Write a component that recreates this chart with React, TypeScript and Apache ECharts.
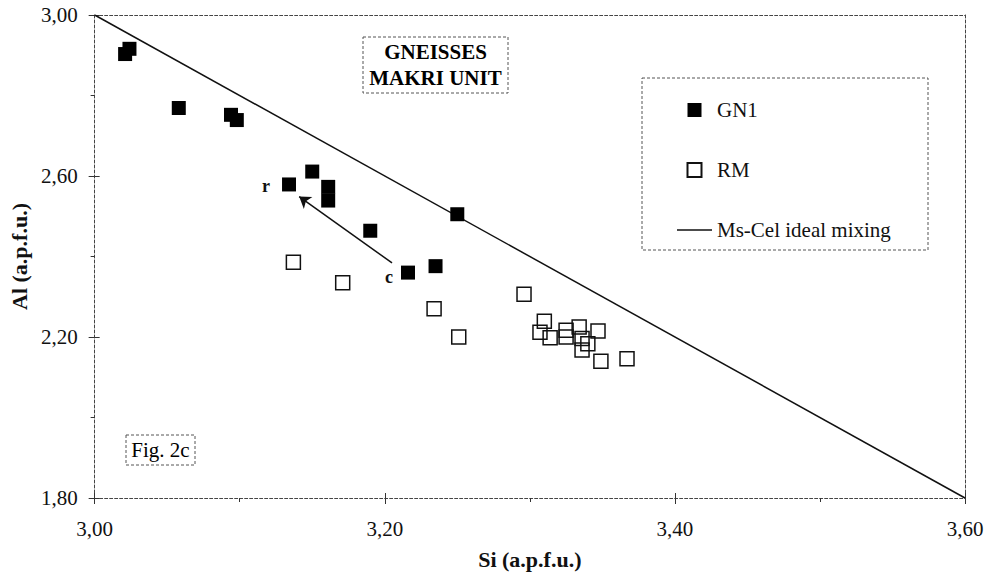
import React, { useEffect, useRef } from 'react';
import * as echarts from 'echarts';

const FONT = "'Liberation Serif', 'Times New Roman', Times, serif";

// Si (a.p.f.u.), Al (a.p.f.u.)
const gn1Points: number[][] = [
  [3.021, 2.903],
  [3.024, 2.916],
  [3.058, 2.769],
  [3.094, 2.752],
  [3.098, 2.739],
  [3.134, 2.579],
  [3.150, 2.611],
  [3.161, 2.573],
  [3.161, 2.539],
  [3.190, 2.464],
  [3.216, 2.360],
  [3.235, 2.376],
  [3.250, 2.505],
];

const rmPoints: number[][] = [
  [3.137, 2.386],
  [3.171, 2.335],
  [3.234, 2.270],
  [3.251, 2.200],
  [3.296, 2.306],
  [3.310, 2.239],
  [3.307, 2.212],
  [3.314, 2.198],
  [3.325, 2.217],
  [3.325, 2.200],
  [3.334, 2.225],
  [3.336, 2.196],
  [3.340, 2.183],
  [3.336, 2.168],
  [3.347, 2.215],
  [3.349, 2.140],
  [3.367, 2.146],
];

const mixingLine: number[][] = [
  [3.0, 3.0],
  [3.6, 1.8],
];

const arrowCoords: number[][] = [
  [3.205, 2.384],
  [3.141, 2.549],
];

const gn1PointLabels: Record<number, string> = { 5: 'r', 10: 'c' };

const seriesNames = ['GN1', 'RM', 'Ms-Cel ideal mixing'];

const fmt = (v: number) => v.toFixed(2).replace('.', ',');

const SQUARE_ICON = 'path://M0,0H10V10H0Z';
const LINE_ICON = 'path://M0,0H35V1.4H0Z';

export default function App() {
  const ref = useRef<HTMLDivElement>(null);

  useEffect(() => {
    if (!ref.current) return;
    const chart = echarts.init(ref.current, undefined, { renderer: 'svg' });

    const axisLineStyle = { color: '#444', width: 1, type: [3, 2] as any };
    const tickStyle = { color: '#333', width: 1 };

    const gn1Data = gn1Points.map((p, i) => {
      const lbl = gn1PointLabels[i];
      if (!lbl) return p;
      return {
        value: p,
        label: {
          show: true,
          formatter: lbl,
          position: 'left',
          distance: lbl === 'r' ? 12 : 8,
          offset: lbl === 'c' ? [0, 4] : [0, 2],
          fontFamily: FONT,
          fontSize: 18,
          fontWeight: 'bold',
          color: '#111',
        },
      };
    });

    chart.setOption({
      animation: false,
      backgroundColor: '#fff',
      grid: { left: 92, right: 30, top: 15, bottom: 80, containLabel: false },
      xAxis: [
        {
          type: 'value',
          min: 3,
          max: 3.6,
          interval: 0.2,
          position: 'bottom',
          axisLine: { show: true, onZero: false, lineStyle: axisLineStyle },
          axisTick: { show: true, inside: false, length: 6, lineStyle: tickStyle },
          minorTick: { show: true, splitNumber: 2, length: 4, lineStyle: tickStyle },
          splitLine: { show: false },
          axisLabel: { margin: 20, fontSize: 21, color: '#111', fontFamily: FONT, formatter: fmt },
          name: 'Si (a.p.f.u.)',
          nameLocation: 'middle',
          nameGap: 50,
          nameTextStyle: { fontFamily: FONT, fontWeight: 'bold', fontSize: 22, color: '#111' },
        },
        {
          type: 'value',
          min: 3,
          max: 3.6,
          interval: 0.2,
          position: 'bottom',
          axisLine: { show: false, onZero: false },
          axisTick: { show: true, inside: true, length: 5, lineStyle: tickStyle },
          axisLabel: { show: false },
          splitLine: { show: false },
        },
        {
          type: 'value',
          min: 3,
          max: 3.6,
          position: 'top',
          axisLine: { show: true, onZero: false, lineStyle: axisLineStyle },
          axisTick: { show: false },
          axisLabel: { show: false },
          splitLine: { show: false },
        },
      ],
      yAxis: [
        {
          type: 'value',
          min: 1.8,
          max: 3.0,
          interval: 0.4,
          position: 'left',
          axisLine: { show: true, onZero: false, lineStyle: axisLineStyle },
          axisTick: { show: true, inside: false, length: 6, lineStyle: tickStyle },
          minorTick: { show: true, splitNumber: 2, length: 4, lineStyle: tickStyle },
          splitLine: { show: false },
          axisLabel: { margin: 17, fontSize: 21, color: '#111', fontFamily: FONT, formatter: fmt },
          name: 'Al (a.p.f.u.)',
          nameLocation: 'middle',
          nameGap: 53,
          nameRotate: 90,
          nameTextStyle: { fontFamily: FONT, fontWeight: 'bold', fontSize: 22, color: '#111' },
        },
        {
          type: 'value',
          min: 1.8,
          max: 3.0,
          interval: 0.4,
          position: 'left',
          axisLine: { show: false, onZero: false },
          axisTick: { show: true, inside: true, length: 5, lineStyle: tickStyle },
          axisLabel: { show: false },
          splitLine: { show: false },
        },
        {
          type: 'value',
          min: 1.8,
          max: 3.0,
          position: 'right',
          axisLine: { show: true, onZero: false, lineStyle: axisLineStyle },
          axisTick: { show: false },
          axisLabel: { show: false },
          splitLine: { show: false },
        },
      ],
      legend: {
        orient: 'vertical',
        left: 677,
        top: 99,
        padding: 0,
        itemWidth: 35,
        itemHeight: 14,
        itemGap: 38,
        symbolKeepAspect: true,
        selectedMode: false,
        textStyle: { fontFamily: FONT, fontSize: 21, color: '#111', lineHeight: 22 },
        data: [
          { name: seriesNames[0], icon: SQUARE_ICON },
          { name: seriesNames[1], icon: SQUARE_ICON },
          { name: seriesNames[2], icon: LINE_ICON },
        ],
      },
      graphic: [
        {
          type: 'rect',
          shape: { x: 363, y: 37, width: 145, height: 56 },
          style: { fill: '#fff', stroke: '#555', lineWidth: 1, lineDash: [3, 2] },
          z: 1,
        },
        {
          type: 'text',
          x: 435.5,
          y: 65,
          style: {
            text: 'GNEISSES\nMAKRI UNIT',
            fontFamily: FONT,
            fontWeight: 'bold',
            fontSize: 21,
            lineHeight: 26,
            align: 'center',
            verticalAlign: 'middle',
            fill: '#000',
          },
          z: 2,
        },
        {
          type: 'rect',
          shape: { x: 642, y: 78, width: 286, height: 172 },
          style: { fill: 'none', stroke: '#555', lineWidth: 1, lineDash: [3, 2] },
          z: 1,
        },
        {
          type: 'rect',
          shape: { x: 126, y: 435, width: 69, height: 30 },
          style: { fill: '#fff', stroke: '#555', lineWidth: 1, lineDash: [3, 2] },
          z: 1,
        },
        {
          type: 'text',
          x: 160.5,
          y: 450,
          style: {
            text: 'Fig. 2c',
            fontFamily: FONT,
            fontSize: 21,
            align: 'center',
            verticalAlign: 'middle',
            fill: '#000',
          },
          z: 2,
        },
      ],
      series: [
        {
          name: seriesNames[2],
          type: 'line',
          data: mixingLine,
          symbol: 'none',
          showSymbol: false,
          lineStyle: { color: '#111', width: 1.5 },
          itemStyle: { color: '#111' },
          silent: true,
          z: 2,
        },
        {
          name: seriesNames[0],
          type: 'scatter',
          data: gn1Data,
          symbol: 'rect',
          symbolSize: 14,
          itemStyle: { color: '#000', opacity: 1 },
          z: 4,
        },
        {
          name: seriesNames[1],
          type: 'scatter',
          data: rmPoints,
          symbol: 'rect',
          symbolSize: 14,
          itemStyle: { color: 'rgba(255,255,255,0)', borderColor: '#111', borderWidth: 1.5, opacity: 1 },
          z: 4,
        },
        {
          type: 'lines',
          coordinateSystem: 'cartesian2d',
          data: [{ coords: arrowCoords }],
          symbol: ['none', 'arrow'],
          symbolSize: [0, 11],
          lineStyle: { color: '#111', width: 1.5, opacity: 1 },
          silent: true,
          z: 3,
        },
      ],
    });

    return () => chart.dispose();
  }, []);

  return (
    <div
      ref={ref}
      style={{ position: 'absolute', left: 0, top: 0, width: 995, height: 578 }}
    />
  );
}
